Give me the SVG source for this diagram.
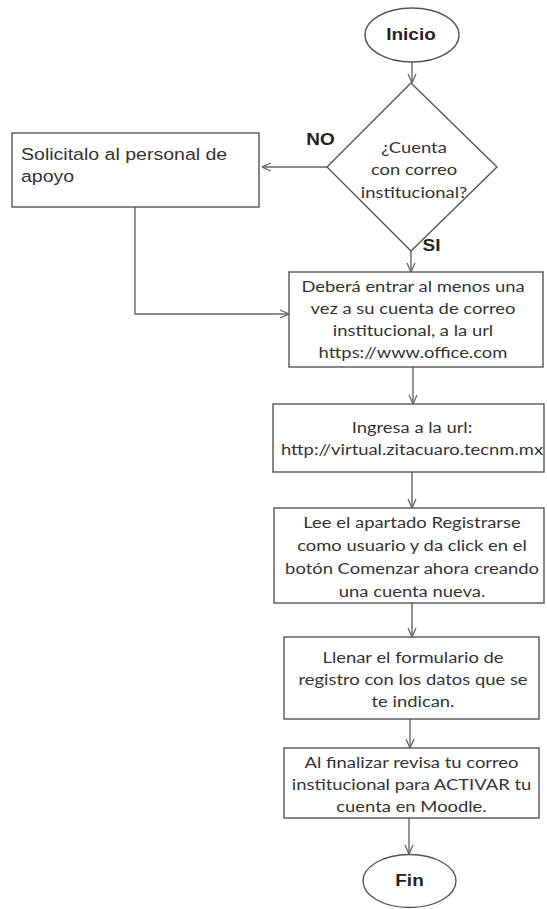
<svg xmlns="http://www.w3.org/2000/svg" width="547" height="909" viewBox="0 0 547 909">
<defs>
<style>
.shape{fill:#ffffff;stroke:#555555;stroke-width:1.4}
.conn{fill:none;stroke:#666666;stroke-width:1.4}
.t{font-family:Lato,"Open Sans",sans-serif;font-size:16px;fill:#333333;text-anchor:middle}
.b{font-family:"Liberation Sans",Arial,sans-serif;font-weight:bold;font-size:16.5px;fill:#222222;text-anchor:middle}
.a{font-family:"Liberation Sans",Arial,sans-serif;font-size:17px;fill:#333333}
</style>
<marker id="arr" viewBox="0 0 10 10" refX="10" refY="5" markerWidth="10" markerHeight="10" markerUnits="userSpaceOnUse" orient="auto">
<path d="M1,1 L10,5 L1,9" fill="none" stroke="#666666" stroke-width="1.3"/>
</marker>
</defs>
<rect width="547" height="909" fill="#ffffff"/>
<g id="connectors">
<line class="conn" x1="412" y1="62" x2="412" y2="83" marker-end="url(#arr)"/>
<line class="conn" x1="327" y1="167" x2="262" y2="167" marker-end="url(#arr)"/>
<line class="conn" x1="411" y1="251" x2="411" y2="272" marker-end="url(#arr)"/>
<polyline class="conn" points="135,207 135,314 289,314" marker-end="url(#arr)"/>
<line class="conn" x1="413" y1="367" x2="413" y2="404" marker-end="url(#arr)"/>
<line class="conn" x1="412" y1="472" x2="412" y2="508" marker-end="url(#arr)"/>
<line class="conn" x1="412" y1="603" x2="412" y2="637" marker-end="url(#arr)"/>
<line class="conn" x1="410" y1="719" x2="410" y2="748" marker-end="url(#arr)"/>
<line class="conn" x1="409" y1="818" x2="409" y2="854" marker-end="url(#arr)"/>
<g transform="translate(320.5,0) scale(1.15,1)"><text class="b" x="0" y="145" font-size="17">NO</text></g>
<g transform="translate(431.5,0) scale(1.15,1)"><text class="b" x="0" y="251" font-size="17">SI</text></g>
</g>
<g id="inicio">
<ellipse class="shape" cx="412" cy="35" rx="47" ry="27"/>
<g transform="translate(411,0) scale(1.15,1)"><text class="b" x="0" y="40.5">Inicio</text></g>
</g>
<g id="decision">
<polygon class="shape" points="411,83 497,167 411,251 327,167"/>
<g transform="translate(414,0) scale(1.15,1)">
<text class="t" x="0" y="153">¿Cuenta</text>
<text class="t" x="0" y="175.5">con correo</text>
<text class="t" x="0" y="198">institucional?</text>
</g>
</g>
<g id="solicitalo">
<rect class="shape" x="12" y="133" width="247" height="74"/>
<g transform="translate(21,0) scale(1.15,1)">
<text class="a" x="0" y="160.5">Solicitalo al personal de</text>
<text class="a" x="0" y="182.5">apoyo</text>
</g>
</g>
<g id="debera">
<rect class="shape" x="289" y="272" width="254" height="95"/>
<g transform="translate(413,0) scale(1.15,1)">
<text class="t" x="0" y="292.5">Deberá entrar al menos una</text>
<text class="t" x="0" y="314.5">vez a su cuenta de correo</text>
<text class="t" x="0" y="336.5">institucional, a la url</text>
<text class="t" x="0" y="358.5">https://www.office.com</text>
</g>
</g>
<g id="ingresa">
<rect class="shape" x="273" y="404" width="271" height="68"/>
<g transform="translate(412,0) scale(1.15,1)">
<text class="t" x="0" y="433">Ingresa a la url:</text>
<text class="t" x="0" y="455">http://virtual.zitacuaro.tecnm.mx</text>
</g>
</g>
<g id="lee">
<rect class="shape" x="274" y="508" width="270" height="95"/>
<g transform="translate(412,0) scale(1.15,1)">
<text class="t" x="0" y="528">Lee el apartado Registrarse</text>
<text class="t" x="0" y="551">como usuario y da click en el</text>
<text class="t" x="0" y="574">botón Comenzar ahora creando</text>
<text class="t" x="0" y="597">una cuenta nueva.</text>
</g>
</g>
<g id="llenar">
<rect class="shape" x="284" y="637" width="255" height="82"/>
<g transform="translate(413,0) scale(1.15,1)">
<text class="t" x="0" y="663">Llenar el formulario de</text>
<text class="t" x="0" y="685">registro con los datos que se</text>
<text class="t" x="0" y="707">te indican.</text>
</g>
</g>
<g id="finalizar">
<rect class="shape" x="284" y="748" width="255" height="70"/>
<g transform="translate(411.5,0) scale(1.15,1)">
<text class="t" x="0" y="768">Al finalizar revisa tu correo</text>
<text class="t" x="0" y="790">institucional para ACTIVAR tu</text>
<text class="t" x="0" y="812">cuenta en Moodle.</text>
</g>
</g>
<g id="fin">
<ellipse class="shape" cx="409.5" cy="881" rx="46.5" ry="26.5"/>
<g transform="translate(409.5,0) scale(1.15,1)"><text class="b" x="0" y="886.5">Fin</text></g>
</g>
</svg>
